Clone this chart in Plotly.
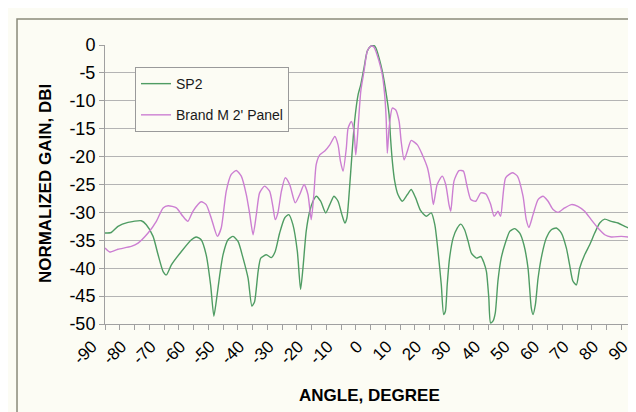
import plotly.graph_objects as go

# ---- data ----
sp2_angle = [-90, -87.9, -85.6, -82.2, -77.7, -76, -73.7, -72, -70.3, -69.2, -67.5, -64.1, -60.7,
             -59.1, -57.4, -55.7, -54.2, -53.1, -52.3, -51.1, -50, -48.3, -46.6, -44.9, -43.2, -41.5,
             -40.2, -39.3, -38.1, -37.2, -35.3, -33.6, -32.3, -30.8, -29.1, -27.7, -26.3, -24.8, -23.7,
             -22.9, -21.8, -20.6, -19.5, -18.4, -16.9, -15.2, -13.8, -12.4, -11, -9.7, -8.7, -8, -7.1,
             -6.3, -5.4, -4.2, -3.3, -2.2, -1.1, 0.1, 1.2, 1.8, 2.9, 4, 5.2, 6.3, 6.8, 7.4, 8.2, 9.3,
             10.8, 12.5, 13.8, 15.3, 17, 18.9, 20.6, 21.8, 22.9, 24, 24.8, 25.4, 26, 26.8, 28, 29.4,
             30.6, 31.9, 33.1, 34.2, 35.9, 37.4, 38.5, 39.3, 40.1, 40.7, 41.5, 42.3, 43.2, 44.3, 45.7,
             47.2, 48.9, 50.6, 52, 53.4, 54.5, 55.1, 55.9, 56.8, 58.1, 59.6, 61.3, 63, 64.7, 66.4,
             67.5, 68.6, 69.8, 70.9, 72.6, 74.3, 76, 77.7, 79.4, 81.6, 83.9, 86.2, 89.6]
sp2_gain = [-33.7, -33.6, -32.5, -31.8, -31.5, -32.2, -34.3, -37.6, -40.6, -41.2, -39.4, -37.0, -34.9,
            -34.4, -34.9, -37.6, -43.0, -48.6, -46.0, -41.2, -37.6, -34.9, -34.3, -35.2, -38.2, -41.8,
            -46.8, -46.0, -40.6, -38.2, -37.6, -38.1, -37.0, -33.7, -31.0, -30.4, -32.2, -37.0, -43.8,
            -40.0, -33.4, -29.8, -28.0, -27.1, -28.0, -30.1, -28.6, -27.1, -28.0, -30.4, -31.9, -31.0, -25.6,
            -19.7, -13.7, -8.9, -7.1, -4.1, -1.1, -0.2, -0.1, -0.5, -2.3, -4.7, -8.3, -12.5, -16.7, -20.8,
            -24.4, -26.8, -28.0, -26.8, -25.9, -27.4, -29.7, -30.7, -30.1, -32.2, -37.0, -43.0, -48.3,
            -47.7, -43.0, -38.2, -34.6, -32.8, -32.1, -33.1, -35.2, -37.3, -38.2, -37.9, -39.1, -40.6,
            -45.3, -49.8, -49.5, -48.0, -42.3, -38.2, -35.5, -33.4, -32.9, -33.7, -35.8, -40.0, -47.1,
            -48.3, -46.5, -41.8, -37.6, -34.6, -33.1, -32.8, -33.7, -36.4, -39.4, -42.3, -43.0, -40.0,
            -37.6, -35.8, -33.7, -31.9, -31.2, -31.6, -31.9, -32.5, -33.3]

brand_angle = [-90, -88.4, -85.6, -81.1, -78.8, -75.4, -72.6, -70.3, -68.6, -65.8, -63.6, -61.9, -60.2,
               -57.4, -55.7, -54, -51.9, -50.6, -48.9, -47.2, -45.5, -43.8, -42.1, -41, -39.8, -38.7,
               -37.6, -35.9, -34.2, -33.1, -32.3, -31.4, -30.2, -28.9, -27.4, -25.5, -24, -22.5, -21.2,
               -20.1, -19.2, -18.4, -17.2, -15.5, -13.8, -12.1, -11, -10.2, -9.3, -8.2, -7.6, -6.5, -5.6,
               -5, -4.5, -3.3, -2.2, -1.1, 0.1, 1.2, 2.9, 4, 4.8, 5.3, 5.7, 6.3, 7.4, 8.5, 9.7, 10.4,
               11.4, 12.5, 13.8, 15.9, 17.6, 19.3, 20.4, 21.3, 22.6, 24.3, 25.5, 26.6, 27.2, 28.3, 30,
               31.5, 32.6, 34, 35.7, 37.4, 39.1, 40.7, 41.9, 43.2, 44.1, 45.8, 48.1, 49.8, 51.7, 52.8,
               53.7, 55.1, 56.8, 58.5, 60.2, 61.9, 63.6, 65.8, 68.1, 70.3, 72.6, 74.8, 77.1, 79.4, 81.6,
               85, 87.3, 89.6]
brand_gain = [-36.4, -37.1, -36.6, -36.1, -35.5, -33.7, -31.6, -29.2, -28.8, -29.2, -30.7, -31.6, -29.8,
              -28.1, -28.6, -31.0, -34.3, -32.8, -26.2, -23.2, -22.5, -23.5, -26.8, -30.1, -34.0, -30.4,
              -26.5, -25.3, -26.2, -28.9, -31.3, -30.1, -26.2, -23.8, -25.0, -28.3, -26.8, -25.0, -26.8,
              -31.3, -26.8, -21.4, -19.7, -19.0, -17.9, -16.4, -17.9, -20.8, -22.6, -18.5, -14.9, -13.7,
              -15.5, -19.7, -17.0, -8.3, -4.7, -1.1, -0.2, -0.4, -2.9, -5.3, -8.9, -13.1, -19.4, -14.9,
              -11.3, -11.6, -13.7, -17.3, -20.6, -19.0, -17.1, -17.9, -19.7, -22.0, -25.0, -28.6, -25.0,
              -23.5, -25.0, -28.6, -29.8, -24.4, -22.5, -22.6, -25.0, -27.7, -28.0, -26.5, -26.7, -28.5,
              -30.7, -29.8, -30.7, -23.8, -22.9, -23.5, -27.1, -31.3, -32.7, -30.4, -27.7, -27.1, -28.0,
              -29.5, -30.0, -29.2, -28.6, -28.9, -29.8, -31.3, -32.8, -34.0, -34.4, -34.3, -34.4, -34.6]

x_tickvals = [-90, -80, -70, -60, -50, -40, -30, -20, -10, 0, 10, 20, 30, 40, 50, 60, 70, 80, 90]
x_ticktext = ["-90", "-80", "-70", "-60", "-50", "-40", "-30", "-20", "-10", "0", "10", "20", "30",
              "40", "50", "60", "70", "80", "90"]
y_tickvals = [0, -5, -10, -15, -20, -25, -30, -35, -40, -45, -50]
y_ticktext = ["0", "-5", "-10", "-15", "-20", "-25", "-30", "-35", "-40", "-45", "-50"]

BG = "#fcfcf4"
FONT = "Arial, Liberation Sans, sans-serif"

fig = go.Figure()
fig.add_trace(go.Scatter(x=sp2_angle, y=sp2_gain, mode="lines", name="SP2", legendgroup="a",
                         line=dict(color="#4f9c63", width=1.4, shape="spline", smoothing=0.6)))
fig.add_trace(go.Scatter(x=brand_angle, y=brand_gain, mode="lines", name="Brand M 2' Panel",
                         legendgroup="b",
                         line=dict(color="#cc7fd2", width=1.4, shape="spline", smoothing=0.6)))

fig.update_layout(
    width=636, height=412,
    margin=dict(l=97, r=8, t=37, b=96),
    paper_bgcolor=BG, plot_bgcolor=BG,
    font=dict(family=FONT, color="#000000"),
    showlegend=True,
    legend=dict(x=0.0565, y=0.921, xanchor="left", yanchor="top",
                bgcolor=BG, bordercolor="#9a9a9a", borderwidth=1,
                font=dict(size=14, family=FONT, color="#1a1a1a"),
                tracegroupgap=10, itemwidth=30),
    xaxis=dict(range=[-90, 90], tickmode="array", tickvals=x_tickvals, ticktext=x_ticktext,
               automargin=False,
               tickangle=-45, tickfont=dict(size=17, family=FONT, color="#000000"),
               showgrid=False, zeroline=False, showline=True, linecolor="#a0a0a0", linewidth=1,
               ticks="outside", ticklen=5, tickcolor="#a0a0a0", ticklabelshift=-13,
               minor=dict(dtick=5, tick0=0, ticks="outside", ticklen=5, tickcolor="#a0a0a0",
                          showgrid=False)),
    yaxis=dict(range=[-50, 0], tickmode="array", tickvals=y_tickvals, ticktext=y_ticktext,
               automargin=False, ticksuffix="\u00a0\u00a0",
               tickfont=dict(size=18, family=FONT, color="#000000"),
               showgrid=True, gridcolor="#b4b4b4", gridwidth=1, zeroline=False,
               showline=True, linecolor="#a0a0a0", linewidth=1,
               ticks="outside", ticklen=5, tickcolor="#a0a0a0"),
    annotations=[
        dict(text="<b>ANGLE, DEGREE</b>", x=0.499, y=-0.258, xref="paper", yref="paper",
             showarrow=False, font=dict(size=17, family=FONT, color="#000000"),
             xanchor="center", yanchor="middle"),
        dict(text="<b>NORMALIZED GAIN, DBI</b>", x=-0.113, y=0.505, xref="paper", yref="paper",
             showarrow=False, textangle=-90, font=dict(size=17, family=FONT, color="#000000"),
             xanchor="center", yanchor="middle"),
    ],
    shapes=[dict(type="rect", xref="paper", yref="paper", x0=-0.1657, y0=-0.5, x1=1.2, y1=1.0932,
                 line=dict(color="#8a8a7a", width=1.5), fillcolor="rgba(0,0,0,0)", layer="below")],
)

fig.write_html("out.html")
